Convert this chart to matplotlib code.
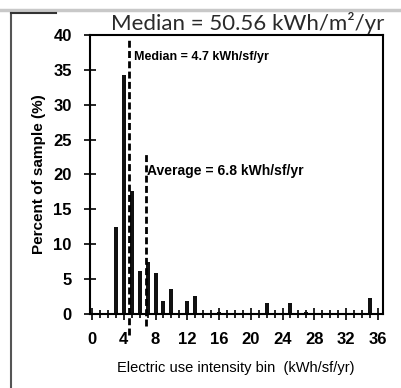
import matplotlib.pyplot as plt
from matplotlib.lines import Line2D

# --- data ---
bins = [3, 4, 5, 6, 7, 8, 9, 10, 12, 13, 16, 22, 25, 27, 35]
percent = [12.5, 34.2, 17.6, 6.2, 7.5, 5.8, 1.8, 3.6, 1.8, 2.5, 0.3, 1.6, 1.6, 0.3, 2.3]
median_val = 4.7
average_val = 6.8
xticks = list(range(0, 37, 4))
yticks = list(range(0, 41, 5))

plt.rcParams['font.family'] = ['Liberation Sans', 'DejaVu Sans']

fig = plt.figure(figsize=(4.01, 3.88), dpi=100)
ax = fig.add_axes([0.224, 0.191, 0.730, 0.719])

ax.bar(bins, percent, width=0.5, color='#111111', zorder=2)

# median / average markers (dashed, running a little below the axis)
ax.plot([median_val, median_val], [-3.0, 39.3], linestyle=(0, (2.5, 1.2)),
        color='black', lw=2, clip_on=False, zorder=3)
ax.plot([average_val, average_val], [-1.8, 23.0], linestyle=(0, (2.5, 1.2)),
        color='black', lw=2, clip_on=False, zorder=3)
ax.text(5.25, 36.8, 'Median = 4.7 kWh/sf/yr', fontsize=9, fontweight='bold',
        va='center', ha='left')
ax.text(6.95, 20.5, 'Average = 6.8 kWh/sf/yr', fontsize=10, fontweight='bold',
        va='center', ha='left')

ax.set_xlim(-0.28, 36.6)
ax.set_ylim(0, 40)
ax.set_xticks(xticks)
ax.set_xticks(range(0, 37), minor=True)
ax.set_yticks(yticks)
ax.tick_params(axis='both', direction='inout', length=8, width=1.2,
               labelsize=12, pad=9)
ax.tick_params(axis='x', which='minor', direction='inout', length=6, width=1.2)
for lab in ax.get_xticklabels() + ax.get_yticklabels():
    lab.set_fontweight('bold')
for s in ax.spines.values():
    s.set_linewidth(1.5)

ax.set_xlabel('Electric use intensity bin  (kWh/sf/yr)', fontsize=10.5, labelpad=10)
ax.set_ylabel('Percent of sample (%)', fontsize=11, fontweight='bold', labelpad=5)

# overlaid metric conversion
fig.text(0.618, 0.942, 'Median = 50.56 kWh/m²/yr', fontsize=16,
         family=['Lato', 'DejaVu Sans'], fontweight='normal', color='#2a2a2a',
         ha='center', va='center')

# scan border
fig.add_artist(Line2D([0, 1], [0.974, 0.974], color='#c8c8c8', lw=2.5))
fig.add_artist(Line2D([0.028, 0.028], [0, 0.966], color='#555555', lw=1.5))
fig.add_artist(Line2D([0.028, 0.14], [0.966, 0.966], color='#333333', lw=1.5))

fig.savefig('out.png', dpi=100)
